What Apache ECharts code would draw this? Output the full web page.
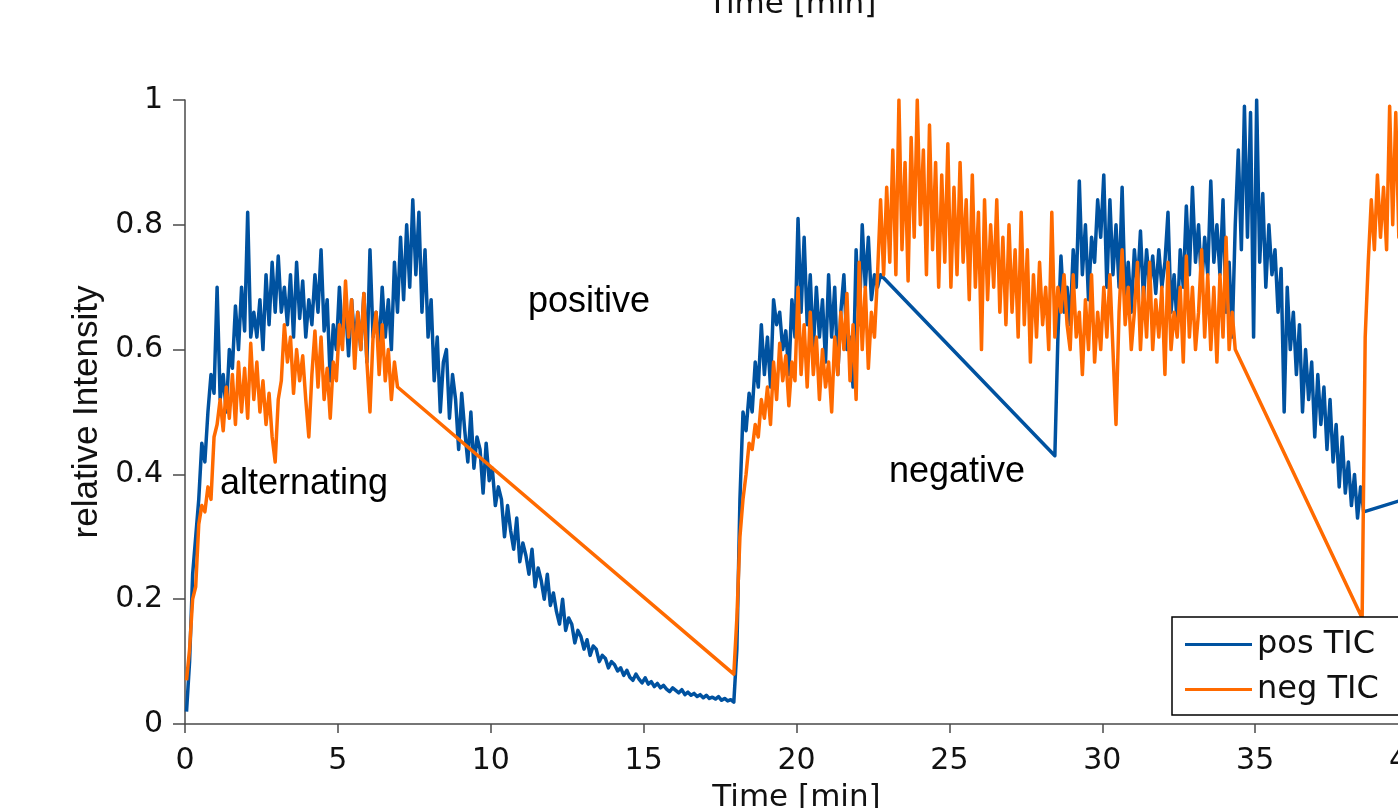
<!DOCTYPE html>
<html>
<head>
<meta charset="utf-8">
<script src="https://cdn.jsdelivr.net/npm/echarts@6/dist/echarts.min.js"></script>
<style>
  html, body { margin: 0; padding: 0; background: #fff; }
  #chart { width: 1398px; height: 808px; }
</style>
</head>
<body>
<div id="chart"></div>
<script>
// sampling step of the recorded traces [min]
const step = 0.1;

// pos TIC, three recorded pieces (start time + values)
const posAStart = 0.05;
const posA = [
  0.02, 0.10, 0.24, 0.30, 0.36, 0.45, 0.42, 0.50, 0.56, 0.53,
  0.70, 0.52, 0.56, 0.50, 0.60, 0.57, 0.67, 0.60, 0.70, 0.63,
  0.82, 0.62, 0.66, 0.62, 0.68, 0.60, 0.72, 0.64, 0.74, 0.66,
  0.75, 0.66, 0.70, 0.64, 0.72, 0.62, 0.74, 0.65, 0.71, 0.62,
  0.68, 0.64, 0.72, 0.66, 0.76, 0.63, 0.68, 0.55, 0.64, 0.60,
  0.70, 0.62, 0.67, 0.59, 0.68, 0.61, 0.66, 0.60, 0.69, 0.58,
  0.76, 0.62, 0.66, 0.60, 0.70, 0.62, 0.68, 0.60, 0.74, 0.66,
  0.78, 0.68, 0.80, 0.70, 0.84, 0.72, 0.82, 0.66, 0.76, 0.62,
  0.68, 0.55, 0.62, 0.50, 0.58, 0.60, 0.49, 0.56, 0.52, 0.44,
  0.53, 0.47, 0.42, 0.50, 0.41, 0.46, 0.44, 0.37, 0.45, 0.39,
  0.41, 0.35, 0.38, 0.36, 0.30, 0.35, 0.31, 0.28, 0.33, 0.26,
  0.29, 0.27, 0.24, 0.28, 0.22, 0.25, 0.23, 0.20, 0.24, 0.19,
  0.21, 0.18, 0.16, 0.20, 0.15, 0.17, 0.16, 0.13, 0.15, 0.14,
  0.12, 0.135, 0.11, 0.125, 0.12, 0.10, 0.11, 0.105, 0.09, 0.10,
  0.095, 0.085, 0.09, 0.078, 0.086, 0.075, 0.07, 0.08, 0.072, 0.066,
  0.074, 0.064, 0.068, 0.06, 0.065, 0.058, 0.062, 0.056, 0.052, 0.058,
  0.054, 0.05, 0.055, 0.047, 0.051, 0.046, 0.049, 0.044, 0.047, 0.042,
  0.046, 0.041, 0.043, 0.04, 0.044, 0.038, 0.041, 0.037, 0.039, 0.035
];
const posBStart = 18.05;
const posB = [
  0.12, 0.36, 0.50, 0.47, 0.53, 0.50, 0.58, 0.54, 0.64, 0.56,
  0.62, 0.54, 0.68, 0.64, 0.66, 0.60, 0.63, 0.56, 0.68, 0.62,
  0.81, 0.66, 0.78, 0.64, 0.72, 0.60, 0.70, 0.62, 0.68, 0.58,
  0.72, 0.62, 0.70, 0.56, 0.66, 0.72, 0.60, 0.62, 0.54, 0.76,
  0.64, 0.80, 0.70, 0.78, 0.68, 0.72, 0.70, 0.72
];
const posCStart = 28.45;
const posC = [
  0.43, 0.62, 0.75, 0.66, 0.70, 0.64, 0.76, 0.70, 0.87, 0.72,
  0.80, 0.68, 0.78, 0.74, 0.84, 0.78, 0.88, 0.70, 0.84, 0.72,
  0.80, 0.70, 0.86, 0.68, 0.74, 0.66, 0.76, 0.70, 0.79, 0.68,
  0.76, 0.70, 0.75, 0.69, 0.76, 0.70, 0.74, 0.82, 0.66, 0.72,
  0.64, 0.76, 0.70, 0.83, 0.72, 0.86, 0.74, 0.80, 0.70, 0.78,
  0.72, 0.87, 0.74, 0.80, 0.72, 0.84, 0.66, 0.74, 0.62, 0.80,
  0.92, 0.76, 0.99, 0.78, 0.98, 0.62, 1.00, 0.74, 0.85, 0.70,
  0.80, 0.72, 0.76, 0.66, 0.73, 0.50, 0.70, 0.60, 0.66, 0.56,
  0.64, 0.50, 0.60, 0.52, 0.58, 0.46, 0.56, 0.48, 0.54, 0.44,
  0.52, 0.42, 0.48, 0.38, 0.46, 0.37, 0.42, 0.35, 0.40, 0.33,
  0.38, 0.34
];
const posEnd = [40.0, 0.362];

// neg TIC, three recorded pieces
const negAStart = 0.05;
const negA = [
  0.07, 0.12, 0.20, 0.22, 0.32, 0.35, 0.34, 0.38, 0.36, 0.46,
  0.48, 0.52, 0.47, 0.54, 0.49, 0.56, 0.48, 0.58, 0.50, 0.57,
  0.49, 0.61, 0.52, 0.58, 0.50, 0.55, 0.48, 0.53, 0.46, 0.42,
  0.52, 0.55, 0.64, 0.58, 0.62, 0.53, 0.60, 0.55, 0.59, 0.52,
  0.46, 0.56, 0.63, 0.54, 0.62, 0.52, 0.57, 0.49, 0.58, 0.55,
  0.64, 0.60, 0.71, 0.62, 0.68, 0.57, 0.66, 0.60, 0.69, 0.58,
  0.50, 0.62, 0.66, 0.56, 0.64, 0.55, 0.60, 0.52, 0.58, 0.54
];
const negBStart = 17.95;
const negB = [
  0.08, 0.17, 0.30, 0.36, 0.40, 0.45, 0.44, 0.48, 0.46, 0.52,
  0.49, 0.54, 0.48, 0.58, 0.52, 0.61, 0.55, 0.59, 0.51, 0.58,
  0.55, 0.70, 0.56, 0.64, 0.54, 0.66, 0.56, 0.62, 0.52, 0.60,
  0.54, 0.58, 0.50, 0.62, 0.56, 0.66, 0.60, 0.69, 0.55, 0.64,
  0.52, 0.74, 0.60, 0.70, 0.57, 0.66, 0.62, 0.72, 0.84, 0.72,
  0.86, 0.74, 0.92, 0.72, 1.00, 0.76, 0.90, 0.71, 0.94, 0.78,
  1.00, 0.80, 0.92, 0.72, 0.96, 0.76, 0.90, 0.70, 0.88, 0.74,
  0.93, 0.70, 0.86, 0.72, 0.90, 0.74, 0.84, 0.68, 0.88, 0.70,
  0.82, 0.60, 0.84, 0.68, 0.80, 0.70, 0.84, 0.66, 0.78, 0.64,
  0.80, 0.66, 0.76, 0.62, 0.82, 0.64, 0.76, 0.58, 0.72, 0.62,
  0.74, 0.64, 0.70, 0.60, 0.82, 0.62, 0.70, 0.66, 0.72, 0.64,
  0.60, 0.72, 0.62, 0.66, 0.56, 0.68, 0.60, 0.72, 0.58, 0.66,
  0.60, 0.70, 0.62, 0.72, 0.60, 0.48, 0.66, 0.76, 0.64, 0.70,
  0.60, 0.66, 0.74, 0.60, 0.70, 0.62, 0.74, 0.60, 0.68, 0.62,
  0.70, 0.56, 0.74, 0.60, 0.66, 0.62, 0.70, 0.58, 0.75, 0.62,
  0.70, 0.60, 0.66, 0.76, 0.62, 0.72, 0.60, 0.70, 0.58, 0.72,
  0.62, 0.78, 0.60, 0.66, 0.60
];
const negCStart = 38.5;
const negC = [
  0.17, 0.62, 0.74, 0.84, 0.76, 0.88, 0.78, 0.86, 0.76, 0.99,
  0.80, 0.98, 0.78, 0.90, 0.82, 0.86
];

const xTicks = [0, 5, 10, 15, 20, 25, 30, 35, 40];
const yTicks = [0, 0.2, 0.4, 0.6, 0.8, 1];

function piece(start, vals) {
  return vals.map((v, i) => [+(start + i * step).toFixed(2), v]);
}

const posData = piece(posAStart, posA)
  .concat(piece(posBStart, posB))
  .concat(piece(posCStart, posC))
  .concat([posEnd]);
const negData = piece(negAStart, negA)
  .concat(piece(negBStart, negB))
  .concat(piece(negCStart, negC));

const axisColor = '#4a4a4a';
const tickFont = 'DejaVu Sans';

let myChart = echarts.init(document.getElementById('chart'), null, { renderer: 'canvas' });

let option = {
  animation: false,
  backgroundColor: '#fff',
  grid: {
    left: 185,
    top: 100,
    bottom: 84,
    right: -10,
    containLabel: false,
    outerBoundsMode: 'none'
  },
  legend: {
    orient: 'vertical',
    left: 1172,
    top: 617,
    data: ['pos TIC', 'neg TIC'],
    icon: 'rect',
    itemWidth: 67,
    itemHeight: 3,
    itemGap: 10,
    padding: [10, 60, 8, 13],
    borderColor: '#000',
    borderWidth: 1.5,
    backgroundColor: '#fff',
    textStyle: { fontFamily: tickFont, fontSize: 32, color: '#111', lineHeight: 35 }
  },
  xAxis: {
    type: 'value',
    min: xTicks[0],
    max: xTicks[xTicks.length - 1],
    interval: 5,
    name: 'Time [min]',
    nameLocation: 'middle',
    nameGap: 58,
    nameTextStyle: { fontFamily: tickFont, fontSize: 31, color: '#111' },
    axisLine: { show: true, lineStyle: { color: axisColor, width: 1.5 } },
    axisTick: { show: true, inside: false, length: 9, lineStyle: { color: axisColor, width: 1.5 } },
    axisLabel: {
      margin: 22, fontFamily: tickFont, fontSize: 30, color: '#111',
      showMaxLabel: true, showMinLabel: true
    },
    splitLine: { show: false }
  },
  yAxis: {
    type: 'value',
    min: yTicks[0],
    max: yTicks[yTicks.length - 1],
    interval: 0.2,
    name: 'relative Intensity',
    nameLocation: 'middle',
    nameGap: 80,
    nameRotate: 90,
    nameTextStyle: { fontFamily: 'Liberation Sans', fontSize: 35, color: '#111' },
    axisLine: { show: true, lineStyle: { color: axisColor, width: 1.5 } },
    axisTick: { show: true, inside: false, length: 12, lineStyle: { color: axisColor, width: 1.5 } },
    axisLabel: { margin: 22, fontFamily: tickFont, fontSize: 30, color: '#111' },
    splitLine: { show: false }
  },
  graphic: [
    {
      type: 'text', left: 708, top: -11, z: 10,
      style: { text: 'Time [min]', fontFamily: tickFont, fontSize: 31, fill: '#111' }
    },
    {
      type: 'text', left: 220, top: 466, z: 10,
      style: { text: 'alternating', fontFamily: 'Liberation Sans', fontSize: 36, fill: '#000' }
    },
    {
      type: 'text', left: 528, top: 284, z: 10,
      style: { text: 'positive', fontFamily: 'Liberation Sans', fontSize: 36, fill: '#000' }
    },
    {
      type: 'text', left: 889, top: 454, z: 10,
      style: { text: 'negative', fontFamily: 'Liberation Sans', fontSize: 36, fill: '#000' }
    }
  ],
  series: [
    {
      name: 'pos TIC',
      type: 'line',
      data: posData,
      showSymbol: false,
      symbol: 'none',
      color: '#0052a0',
      lineStyle: { color: '#0052a0', width: 3.5, join: 'round' }
    },
    {
      name: 'neg TIC',
      type: 'line',
      data: negData,
      showSymbol: false,
      symbol: 'none',
      color: '#ff6a00',
      lineStyle: { color: '#ff6a00', width: 3.5, join: 'round' }
    }
  ]
};

option && myChart.setOption(option);
</script>
</body>
</html>
